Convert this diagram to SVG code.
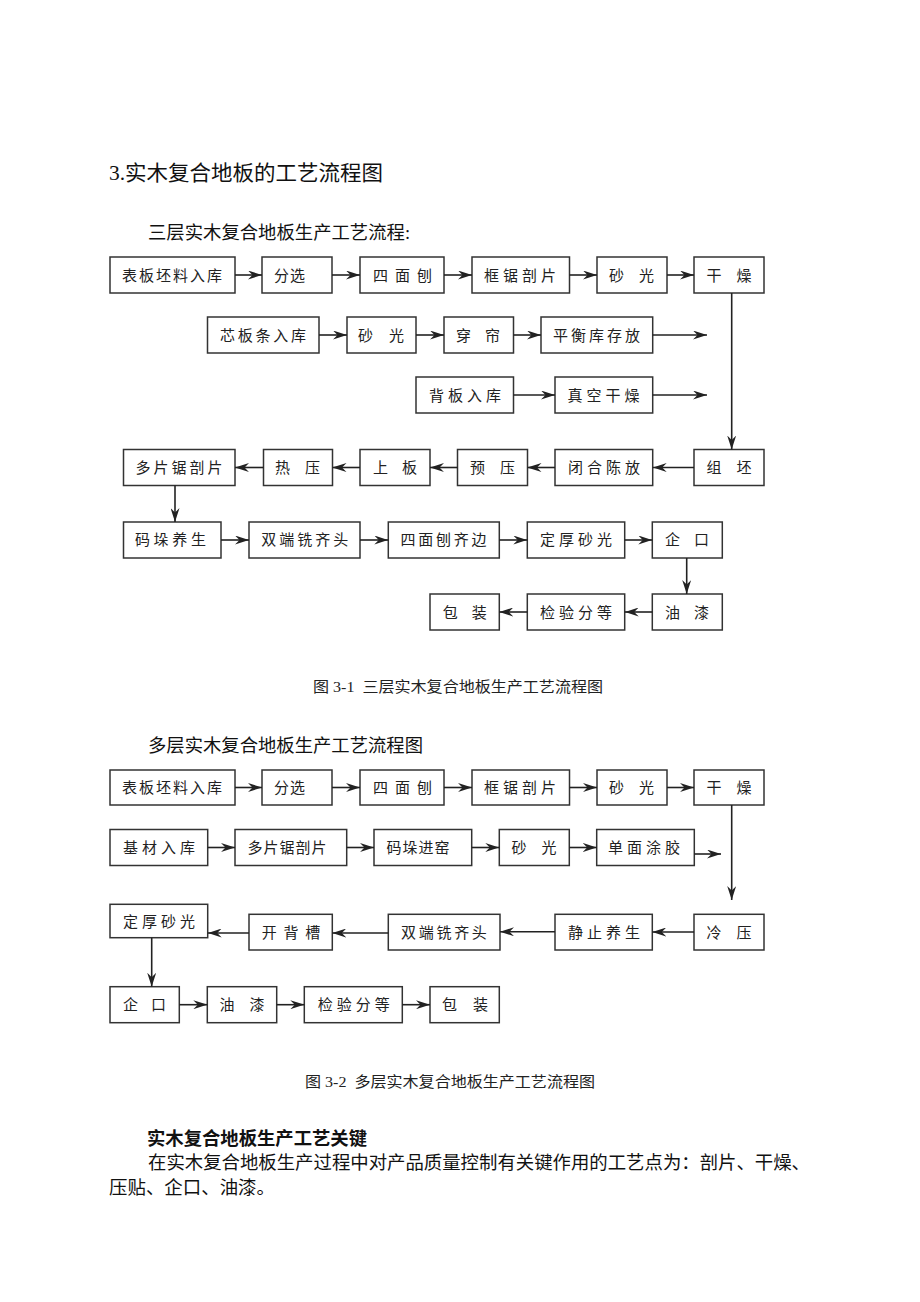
<svg xmlns="http://www.w3.org/2000/svg" width="920" height="1302" viewBox="0 0 920 1302">
<style>
.bg{fill:#ffffff}
.box{fill:#ffffff;stroke:#333333;stroke-width:1.5}
.t{font-family:"Noto Sans CJK SC","Liberation Sans",sans-serif;font-size:15px;fill:#222222;text-anchor:middle}
.h{font-family:"Liberation Serif","Noto Sans CJK SC",sans-serif;fill:#111111}
.cap{font-family:"Liberation Serif","Noto Sans CJK SC",serif;font-size:15px;fill:#222222}
.c{fill:none;stroke:#222222;stroke-width:1.6}
</style>
<defs>
<marker id="ah" viewBox="0 0 14 9" refX="14" refY="4.5" markerWidth="14" markerHeight="9" markerUnits="userSpaceOnUse" orient="auto">
<path d="M0,0 L14,4.5 L0,9 L4.5,4.5 Z" fill="#222222"/>
</marker>
</defs>
<rect class="bg" x="0" y="0" width="920" height="1302"/>

<g id="titles">
<text class="h" x="109" y="180" font-size="21" textLength="274" lengthAdjust="spacingAndGlyphs">3.实木复合地板的工艺流程图</text>
<text class="h" x="148" y="239" font-size="18" textLength="262" lengthAdjust="spacingAndGlyphs">三层实木复合地板生产工艺流程:</text>
<text class="cap" x="313" y="691.5" xml:space="preserve" textLength="290" lengthAdjust="spacingAndGlyphs">图 3-1  三层实木复合地板生产工艺流程图</text>
<text class="h" x="148" y="752" font-size="18" textLength="275" lengthAdjust="spacingAndGlyphs">多层实木复合地板生产工艺流程图</text>
<text class="cap" x="305" y="1086.5" xml:space="preserve" textLength="290" lengthAdjust="spacingAndGlyphs">图 3-2  多层实木复合地板生产工艺流程图</text>
<text class="h" x="147" y="1145" font-size="18" font-weight="bold" textLength="220" lengthAdjust="spacingAndGlyphs">实木复合地板生产工艺关键</text>
<text class="h" x="148" y="1169" font-size="18.4" textLength="662" lengthAdjust="spacingAndGlyphs">在实木复合地板生产过程中对产品质量控制有关键作用的工艺点为：剖片、干燥、</text>
<text class="h" x="109" y="1194" font-size="18.4" textLength="166" lengthAdjust="spacingAndGlyphs">压贴、企口、油漆。</text>
</g>

<!-- Diagram 1 -->
<g id="d1-n1"><rect class="box" x="110" y="257" width="125" height="36"/><text class="t" x="173" y="280.5" style="letter-spacing:2px">表板坯料入库</text></g>
<g id="d1-n2"><rect class="box" x="262" y="257" width="70" height="36"/><text class="t" x="290" y="280.5" style="letter-spacing:1px">分选</text></g>
<g id="d1-n3"><rect class="box" x="360" y="257" width="84" height="36"/><text class="t" x="406" y="280.5" style="letter-spacing:7px">四面刨</text></g>
<g id="d1-n4"><rect class="box" x="472" y="257" width="97.5" height="36"/><text class="t" x="522" y="280.5" style="letter-spacing:4px">框锯剖片</text></g>
<g id="d1-n5"><rect class="box" x="597" y="257" width="70" height="36"/><text class="t" x="639" y="280.5" style="letter-spacing:15px">砂光</text></g>
<g id="d1-n6"><rect class="box" x="694" y="257" width="70" height="36"/><text class="t" x="736.5" y="280.5" style="letter-spacing:15px">干燥</text></g>

<g id="d1-n7"><rect class="box" x="207.5" y="317" width="111.5" height="36"/><text class="t" x="264.4" y="340.5" style="letter-spacing:2.75px">芯板条入库</text></g>
<g id="d1-n8"><rect class="box" x="347" y="317" width="69" height="36"/><text class="t" x="389" y="340.5" style="letter-spacing:16px">砂光</text></g>
<g id="d1-n9"><rect class="box" x="444" y="317" width="69.5" height="36"/><text class="t" x="485" y="340.5" style="letter-spacing:14px">穿帘</text></g>
<g id="d1-n10"><rect class="box" x="541" y="317" width="111.7" height="36"/><text class="t" x="598" y="340.5" style="letter-spacing:3px">平衡库存放</text></g>

<g id="d1-n11"><rect class="box" x="416" y="377" width="97.5" height="36"/><text class="t" x="467" y="400.5" style="letter-spacing:4px">背板入库</text></g>
<g id="d1-n12"><rect class="box" x="555" y="377" width="97.7" height="36"/><text class="t" x="605.5" y="400.5" style="letter-spacing:4px">真空干燥</text></g>

<g id="d1-n13"><rect class="box" x="694" y="449.5" width="70" height="36"/><text class="t" x="736.5" y="473" style="letter-spacing:15px">组坯</text></g>
<g id="d1-n14"><rect class="box" x="555" y="449.5" width="97.7" height="36"/><text class="t" x="606" y="473" style="letter-spacing:4px">闭合陈放</text></g>
<g id="d1-n15"><rect class="box" x="457.5" y="449.5" width="70" height="36"/><text class="t" x="500" y="473" style="letter-spacing:15px">预压</text></g>
<g id="d1-n16"><rect class="box" x="360" y="449.5" width="70" height="36"/><text class="t" x="402" y="473" style="letter-spacing:14px">上板</text></g>
<g id="d1-n17"><rect class="box" x="263.5" y="449.5" width="69" height="36"/><text class="t" x="305" y="473" style="letter-spacing:15px">热压</text></g>
<g id="d1-n18"><rect class="box" x="123.5" y="449.5" width="111.5" height="36"/><text class="t" x="180.5" y="473" style="letter-spacing:3px">多片锯剖片</text></g>

<g id="d1-n19"><rect class="box" x="123.5" y="522" width="97.5" height="36"/><text class="t" x="172.3" y="545.2" style="letter-spacing:3.7px">码垛养生</text></g>
<g id="d1-n20"><rect class="box" x="249" y="522" width="111" height="36"/><text class="t" x="306.2" y="545.2" style="letter-spacing:3px">双端铣齐头</text></g>
<g id="d1-n21"><rect class="box" x="388.3" y="522" width="111" height="36"/><text class="t" x="445" y="545.2" style="letter-spacing:2.75px">四面刨齐边</text></g>
<g id="d1-n22"><rect class="box" x="527.3" y="522" width="97.4" height="36"/><text class="t" x="578" y="545.2" style="letter-spacing:4px">定厚砂光</text></g>
<g id="d1-n23"><rect class="box" x="652.3" y="522" width="70" height="36"/><text class="t" x="694" y="545.2" style="letter-spacing:14px">企口</text></g>

<g id="d1-n24"><rect class="box" x="652.3" y="594" width="70" height="36"/><text class="t" x="694" y="617.5" style="letter-spacing:14px">油漆</text></g>
<g id="d1-n25"><rect class="box" x="527.3" y="594" width="97.4" height="36"/><text class="t" x="578" y="617.5" style="letter-spacing:4px">检验分等</text></g>
<g id="d1-n26"><rect class="box" x="430" y="594" width="69.3" height="36"/><text class="t" x="471.7" y="617.5" style="letter-spacing:14px">包装</text></g>

<!-- Diagram 2 -->
<g id="d2-n1"><rect class="box" x="110" y="770" width="125" height="35"/><text class="t" x="173" y="793" style="letter-spacing:2px">表板坯料入库</text></g>
<g id="d2-n2"><rect class="box" x="262" y="770" width="70" height="35"/><text class="t" x="290" y="793" style="letter-spacing:1px">分选</text></g>
<g id="d2-n3"><rect class="box" x="360" y="770" width="84" height="35"/><text class="t" x="406" y="793" style="letter-spacing:7px">四面刨</text></g>
<g id="d2-n4"><rect class="box" x="472" y="770" width="97.5" height="35"/><text class="t" x="522" y="793" style="letter-spacing:4px">框锯剖片</text></g>
<g id="d2-n5"><rect class="box" x="597" y="770" width="70" height="35"/><text class="t" x="639" y="793" style="letter-spacing:15px">砂光</text></g>
<g id="d2-n6"><rect class="box" x="694" y="770" width="70" height="35"/><text class="t" x="736.5" y="793" style="letter-spacing:15px">干燥</text></g>

<g id="d2-n7"><rect class="box" x="110" y="829.5" width="97.7" height="36"/><text class="t" x="161" y="853" style="letter-spacing:4px">基材入库</text></g>
<g id="d2-n8"><rect class="box" x="235" y="829.5" width="111.7" height="36"/><text class="t" x="287.5" y="853" style="letter-spacing:1px">多片锯剖片</text></g>
<g id="d2-n9"><rect class="box" x="374" y="829.5" width="97.7" height="36"/><text class="t" x="418.5" y="853" style="letter-spacing:1px">码垛进窑</text></g>
<g id="d2-n10"><rect class="box" x="499.3" y="829.5" width="70" height="36"/><text class="t" x="541.5" y="853" style="letter-spacing:15px">砂光</text></g>
<g id="d2-n11"><rect class="box" x="596.7" y="829.5" width="97.6" height="36"/><text class="t" x="646" y="853" style="letter-spacing:4px">单面涂胶</text></g>

<g id="d2-n12"><rect class="box" x="694" y="914.3" width="70" height="35.7"/><text class="t" x="736.5" y="937.5" style="letter-spacing:15px">冷压</text></g>
<g id="d2-n13"><rect class="box" x="555" y="914.3" width="97.3" height="35.7"/><text class="t" x="606" y="937.5" style="letter-spacing:4px">静止养生</text></g>
<g id="d2-n14"><rect class="box" x="388.3" y="914.3" width="111.7" height="35.7"/><text class="t" x="445.3" y="937.5" style="letter-spacing:2.7px">双端铣齐头</text></g>
<g id="d2-n15"><rect class="box" x="249" y="914.3" width="83.3" height="35.7"/><text class="t" x="294.3" y="937.5" style="letter-spacing:6.7px">开背槽</text></g>
<g id="d2-n16"><rect class="box" x="110" y="904.3" width="97.7" height="33.4"/><text class="t" x="161" y="926.5" style="letter-spacing:4px">定厚砂光</text></g>

<g id="d2-n17"><rect class="box" x="110" y="986.7" width="69.3" height="36"/><text class="t" x="151" y="1010.2" style="letter-spacing:13px">企口</text></g>
<g id="d2-n18"><rect class="box" x="207.3" y="986.7" width="69.4" height="36"/><text class="t" x="249.5" y="1010.2" style="letter-spacing:15px">油漆</text></g>
<g id="d2-n19"><rect class="box" x="304.3" y="986.7" width="98" height="36"/><text class="t" x="355.7" y="1010.2" style="letter-spacing:4px">检验分等</text></g>
<g id="d2-n20"><rect class="box" x="430" y="986.7" width="69.3" height="36"/><text class="t" x="473" y="1010.2" style="letter-spacing:16px">包装</text></g>

<g id="connectors">
<line class="c" x1="235" y1="275" x2="262" y2="275" marker-end="url(#ah)"/>
<line class="c" x1="332" y1="275" x2="360" y2="275" marker-end="url(#ah)"/>
<line class="c" x1="444" y1="275" x2="472" y2="275" marker-end="url(#ah)"/>
<line class="c" x1="569.5" y1="275" x2="597" y2="275" marker-end="url(#ah)"/>
<line class="c" x1="667" y1="275" x2="694" y2="275" marker-end="url(#ah)"/>
<line class="c" x1="731.7" y1="293" x2="731.7" y2="449.5" marker-end="url(#ah)"/>
<line class="c" x1="319" y1="335" x2="347" y2="335" marker-end="url(#ah)"/>
<line class="c" x1="416" y1="335" x2="444" y2="335" marker-end="url(#ah)"/>
<line class="c" x1="513.5" y1="335" x2="541" y2="335" marker-end="url(#ah)"/>
<line class="c" x1="652.7" y1="335" x2="707" y2="335" marker-end="url(#ah)"/>
<line class="c" x1="513.5" y1="395" x2="555" y2="395" marker-end="url(#ah)"/>
<line class="c" x1="652.7" y1="395" x2="707" y2="395" marker-end="url(#ah)"/>
<line class="c" x1="694" y1="467.5" x2="652.7" y2="467.5" marker-end="url(#ah)"/>
<line class="c" x1="555" y1="467.5" x2="527.5" y2="467.5" marker-end="url(#ah)"/>
<line class="c" x1="457.5" y1="467.5" x2="430" y2="467.5" marker-end="url(#ah)"/>
<line class="c" x1="360" y1="467.5" x2="332.5" y2="467.5" marker-end="url(#ah)"/>
<line class="c" x1="263.5" y1="467.5" x2="235" y2="467.5" marker-end="url(#ah)"/>
<line class="c" x1="175" y1="485.5" x2="175" y2="522" marker-end="url(#ah)"/>
<line class="c" x1="221" y1="540" x2="249" y2="540" marker-end="url(#ah)"/>
<line class="c" x1="360" y1="540" x2="388.3" y2="540" marker-end="url(#ah)"/>
<line class="c" x1="499.3" y1="540" x2="527.3" y2="540" marker-end="url(#ah)"/>
<line class="c" x1="624.7" y1="540" x2="652.3" y2="540" marker-end="url(#ah)"/>
<line class="c" x1="686.7" y1="558" x2="686.7" y2="594" marker-end="url(#ah)"/>
<line class="c" x1="652.3" y1="612" x2="624.7" y2="612" marker-end="url(#ah)"/>
<line class="c" x1="527.3" y1="612" x2="499.3" y2="612" marker-end="url(#ah)"/>
<line class="c" x1="235" y1="787.5" x2="262" y2="787.5" marker-end="url(#ah)"/>
<line class="c" x1="332" y1="787.5" x2="360" y2="787.5" marker-end="url(#ah)"/>
<line class="c" x1="444" y1="787.5" x2="472" y2="787.5" marker-end="url(#ah)"/>
<line class="c" x1="569.5" y1="787.5" x2="597" y2="787.5" marker-end="url(#ah)"/>
<line class="c" x1="667" y1="787.5" x2="694" y2="787.5" marker-end="url(#ah)"/>
<line class="c" x1="731.7" y1="805" x2="731.7" y2="900" marker-end="url(#ah)"/>
<line class="c" x1="207.7" y1="847.5" x2="235" y2="847.5" marker-end="url(#ah)"/>
<line class="c" x1="346.7" y1="847.5" x2="374" y2="847.5" marker-end="url(#ah)"/>
<line class="c" x1="471.7" y1="847.5" x2="499.3" y2="847.5" marker-end="url(#ah)"/>
<line class="c" x1="569.3" y1="847.5" x2="596.7" y2="847.5" marker-end="url(#ah)"/>
<line class="c" x1="694.3" y1="854" x2="721" y2="854" marker-end="url(#ah)"/>
<line class="c" x1="694" y1="932" x2="652.3" y2="932" marker-end="url(#ah)"/>
<line class="c" x1="555" y1="931.7" x2="500" y2="931.7" marker-end="url(#ah)"/>
<line class="c" x1="388.3" y1="933" x2="332.3" y2="933" marker-end="url(#ah)"/>
<line class="c" x1="249" y1="933" x2="207.7" y2="933" marker-end="url(#ah)"/>
<line class="c" x1="151.7" y1="937.7" x2="151.7" y2="986.7" marker-end="url(#ah)"/>
<line class="c" x1="179.3" y1="1004.7" x2="207.3" y2="1004.7" marker-end="url(#ah)"/>
<line class="c" x1="276.7" y1="1004.7" x2="304.3" y2="1004.7" marker-end="url(#ah)"/>
<line class="c" x1="402.3" y1="1004.7" x2="430" y2="1004.7" marker-end="url(#ah)"/>
</g>
</svg>
